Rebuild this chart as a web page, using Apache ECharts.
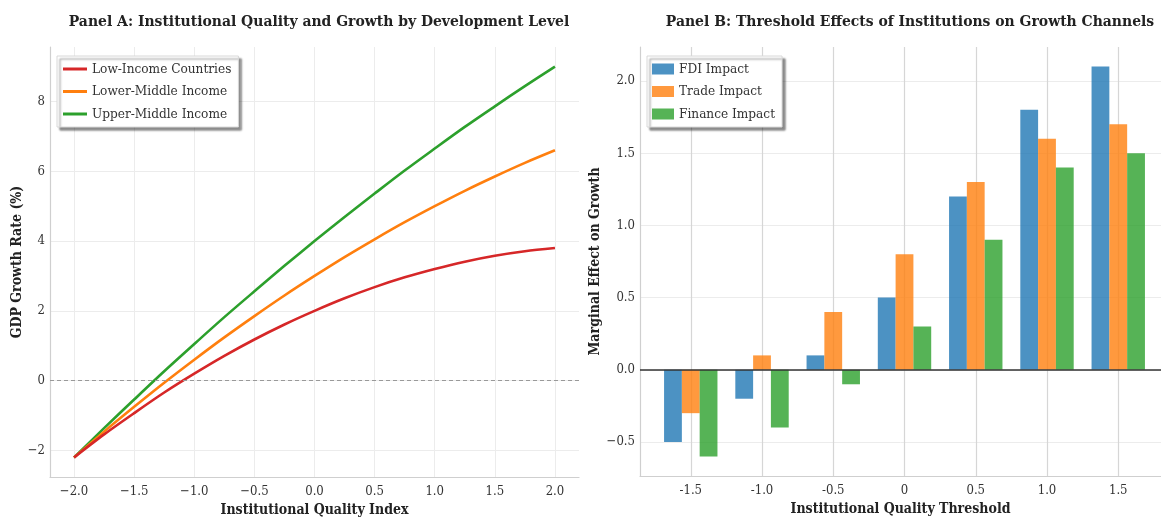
<!DOCTYPE html>
<html>
<head>
<meta charset="utf-8">
<script src="https://cdn.jsdelivr.net/npm/echarts@6/dist/echarts.min.js"></script>
<style>
  html, body { margin: 0; padding: 0; background: #fff; }
  #main { width: 1161px; height: 519px; }
</style>
</head>
<body>
<div id="main"></div>
<script>
// Panel A data
var qualityIndex = [-2, -1.75, -1.5, -1.25, -1, -0.75, -0.5, -0.25, 0, 0.25, 0.5, 0.75, 1, 1.25, 1.5, 1.75, 2];
var lowIncome   = [-2.2, -1.54, -0.93, -0.34, 0.2, 0.71, 1.18, 1.61, 2.0, 2.36, 2.68, 2.96, 3.2, 3.41, 3.58, 3.71, 3.8];
var lowerMiddle = [-2.2, -1.46, -0.75, -0.06, 0.6, 1.24, 1.85, 2.44, 3.0, 3.54, 4.05, 4.54, 5.0, 5.44, 5.85, 6.24, 6.6];
var upperMiddle = [-2.2, -1.36, -0.54, 0.27, 1.05, 1.82, 2.56, 3.29, 4.0, 4.69, 5.36, 6.02, 6.65, 7.27, 7.86, 8.44, 9.0];
var xTicksA = [-2, -1.5, -1, -0.5, 0, 0.5, 1, 1.5, 2];
var yTicksA = [-2, 0, 2, 4, 6, 8];

// Panel B data
var thresholds = ['-1.5', '-1.0', '-0.5', '0', '0.5', '1.0', '1.5'];
var fdiImpact     = [-0.5, -0.2, 0.1, 0.5, 1.2, 1.8, 2.1];
var tradeImpact   = [-0.3, 0.1, 0.4, 0.8, 1.3, 1.6, 1.7];
var financeImpact = [-0.6, -0.4, -0.1, 0.3, 0.9, 1.4, 1.5];
var yTicksB = [-0.5, 0, 0.5, 1.0, 1.5, 2.0];

var FONT = "'DejaVu Serif Condensed', 'DejaVu Serif', serif";
var minus = function (s) { return String(s).replace('-', '\u2212'); };

function pairs(xs, ys) {
  return ys.map(function (v, i) { return [xs[i], v]; });
}
var idx = thresholds.map(function (t, i) { return i; });

var chart = echarts.init(document.getElementById('main'));

var tickLbl = { fontFamily: FONT, fontSize: 13, color: '#333' };
var nameStyle = { fontFamily: FONT, fontSize: 14, fontWeight: 'bold', color: '#222' };
var spine = { show: true, onZero: false, lineStyle: { color: '#cfcfcf', width: 1.2 } };
var legendBox = {
  orient: 'vertical', top: 56, backgroundColor: '#fff', borderColor: '#d8d8d8', borderWidth: 1,
  shadowColor: 'rgba(0,0,0,0.45)', shadowBlur: 2, shadowOffsetX: 3, shadowOffsetY: 3,
  textStyle: { fontFamily: FONT, fontSize: 13.5, color: '#333' }
};

var option = {
  animation: false,
  backgroundColor: '#fff',
  title: [
    { text: 'Panel A: Institutional Quality and Growth by Development Level', left: 314, top: 9, textAlign: 'center',
      textStyle: { fontFamily: FONT, fontSize: 15.5, fontWeight: 'bold', color: '#222' } },
    { text: 'Panel B: Threshold Effects of Institutions on Growth Channels', left: 905, top: 9, textAlign: 'center',
      textStyle: { fontFamily: FONT, fontSize: 15.5, fontWeight: 'bold', color: '#222' } }
  ],
  legend: [
    Object.assign({}, legendBox, {
      data: ['Low-Income Countries', 'Lower-Middle Income', 'Upper-Middle Income'],
      left: 57, icon: 'rect', itemWidth: 24, itemHeight: 3, itemGap: 8.5,
      padding: [6, 7, 6, 6] }),
    Object.assign({}, legendBox, {
      data: ['FDI Impact', 'Trade Impact', 'Finance Impact'],
      left: 647, icon: 'rect', itemWidth: 22, itemHeight: 11, itemGap: 8.5,
      padding: [6, 7, 6, 5] })
  ],
  grid: [
    { left: 50, right: 582, top: 47, bottom: 42, outerBoundsMode: 'none', containLabel: false },
    { left: 640, right: 0, top: 47, bottom: 43, outerBoundsMode: 'none', containLabel: false }
  ],
  xAxis: [
    { type: 'value', gridIndex: 0, min: -2.2, max: 2.2,
      name: 'Institutional Quality Index', nameLocation: 'middle', nameGap: 26, nameTextStyle: nameStyle,
      axisLine: spine, axisTick: { show: false, customValues: xTicksA },
      axisLabel: Object.assign({ customValues: xTicksA, margin: 8,
        formatter: function (v) { return minus(v.toFixed(1)); } }, tickLbl),
      splitLine: { show: true, lineStyle: { color: '#ececec', width: 1 } } },
    { type: 'value', gridIndex: 1, min: -0.7125, max: 6.6,
      name: 'Institutional Quality Threshold', nameLocation: 'middle', nameGap: 26, nameTextStyle: nameStyle,
      axisLine: spine, axisTick: { show: false, customValues: idx },
      axisLabel: Object.assign({ customValues: idx, margin: 8,
        formatter: function (v) { return thresholds[Math.round(v)]; } }, tickLbl),
      splitLine: { show: true, lineStyle: { color: '#d6d6d6', width: 1.2 } } }
  ],
  yAxis: [
    { type: 'value', gridIndex: 0, min: -2.76, max: 9.56,
      name: 'GDP Growth Rate (%)', nameLocation: 'middle', nameGap: 25, nameTextStyle: nameStyle,
      axisLine: spine, axisTick: { show: false, customValues: yTicksA },
      axisLabel: Object.assign({ customValues: yTicksA, margin: 5,
        formatter: function (v) { return minus(v); } }, tickLbl),
      splitLine: { show: true, lineStyle: { color: '#ececec', width: 1 } } },
    { type: 'value', gridIndex: 1, min: -0.735, max: 2.235,
      name: 'Marginal Effect on Growth', nameLocation: 'middle', nameGap: 28, nameTextStyle: nameStyle,
      axisLine: spine, axisTick: { show: false, customValues: yTicksB },
      axisLabel: Object.assign({ customValues: yTicksB, margin: 5,
        formatter: function (v) { return minus(v.toFixed(1)); } }, tickLbl),
      splitLine: { show: true, lineStyle: { color: '#ececec', width: 1 } } }
  ],
  series: [
    { name: 'Low-Income Countries', type: 'line', xAxisIndex: 0, yAxisIndex: 0, smooth: 0.3,
      symbol: 'none', data: pairs(qualityIndex, lowIncome), color: '#d62728', lineStyle: { width: 2.6 },
      z: 4,
      markLine: { silent: true, symbol: 'none', label: { show: false },
        lineStyle: { type: [4, 3], color: '#999', width: 1 }, data: [{ yAxis: 0 }] } },
    { name: 'Lower-Middle Income', type: 'line', xAxisIndex: 0, yAxisIndex: 0, smooth: 0.3,
      symbol: 'none', data: pairs(qualityIndex, lowerMiddle), color: '#ff7f0e', lineStyle: { width: 2.6 }, z: 3 },
    { name: 'Upper-Middle Income', type: 'line', xAxisIndex: 0, yAxisIndex: 0, smooth: 0.3,
      symbol: 'none', data: pairs(qualityIndex, upperMiddle), color: '#2ca02c', lineStyle: { width: 2.6 }, z: 2 },

    { name: 'FDI Impact', type: 'bar', xAxisIndex: 1, yAxisIndex: 1, barWidth: 17.8, barGap: '0%',
      data: pairs(idx, fdiImpact), color: '#1f77b4', itemStyle: { opacity: 0.8 },
      markLine: { silent: true, symbol: 'none', label: { show: false }, z: 10,
        lineStyle: { type: 'solid', color: '#333', width: 1.6 }, data: [{ yAxis: 0 }] } },
    { name: 'Trade Impact', type: 'bar', xAxisIndex: 1, yAxisIndex: 1, barWidth: 17.8, barGap: '0%',
      data: pairs(idx, tradeImpact), color: '#ff7f0e', itemStyle: { opacity: 0.8 } },
    { name: 'Finance Impact', type: 'bar', xAxisIndex: 1, yAxisIndex: 1, barWidth: 17.8, barGap: '0%',
      data: pairs(idx, financeImpact), color: '#2ca02c', itemStyle: { opacity: 0.8 } }
  ]
};
chart.setOption(option);
</script>
</body>
</html>
